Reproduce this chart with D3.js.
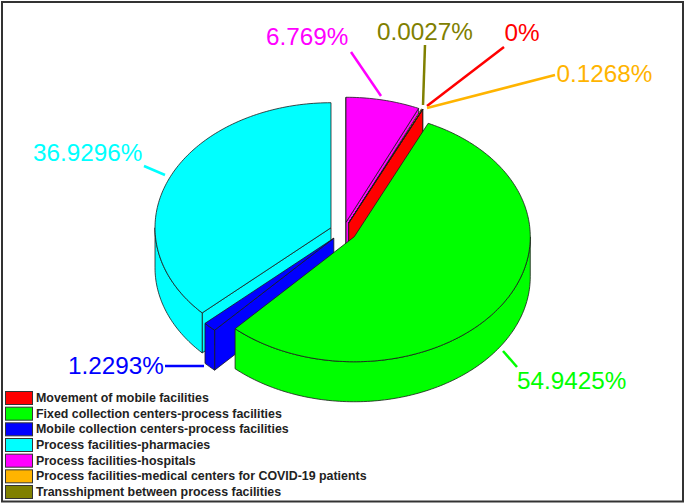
<!DOCTYPE html>
<html>
<head>
<meta charset="utf-8">
<script src="https://cdnjs.cloudflare.com/ajax/libs/d3/7.8.5/d3.min.js"></script>
<style>
html, body { margin: 0; padding: 0; background: #fff; }
svg { display: block; }
</style>
</head>
<body>
<svg id="chart" width="685" height="504"></svg>
<script>
// legend order, this is also the order round the pie
const categories = [
    'Movement of mobile facilities',
    'Fixed collection centers-process facilities',
    'Mobile collection centers-process facilities',
    'Process facilities-pharmacies',
    'Process facilities-hospitals',
    'Process facilities-medical centers for COVID-19 patients',
    'Transshipment between process facilities'
];
const values = [0, 54.9425, 1.2293, 36.9296, 6.769, 0.1268, 0.0027];
const valueLabels = ['0%', '54.9425%', '1.2293%', '36.9296%', '6.769%', '0.1268%', '0.0027%'];
const colors = ['#ff0000', '#00ff00', '#0000ff', '#00ffff', '#ff00ff', '#ffb400', '#808000'];
const wallOrder = [3, 4, 5, 6, 0, 2, 1]; // back to front

// text position and leader line for each label, same order as categories
const labelSpots = [
    { x: 522, y: 41, anchor: 'middle', line: [[504, 47], [427, 106]] },
    { x: 517, y: 389, anchor: 'start', line: [[503, 351], [517, 367]] },
    { x: 68, y: 374, anchor: 'start', line: [[165, 366], [204, 366]] },
    { x: 33, y: 160.5, anchor: 'start', line: [[144, 166], [165, 175]] },
    { x: 266, y: 45, anchor: 'start', line: [[351, 52], [381, 96]] },
    { x: 556.5, y: 82, anchor: 'start', line: [[555, 75], [427, 108]] },
    { x: 377, y: 40, anchor: 'start', line: [[425, 45], [423, 105]] }
];

const svg = d3.select('#chart');
const startDeg = 24.83;
const depth = 40;
const explode = 0.0756;
const centerX = 343.2;
const centerY = 231.5;
const outline = '#1c1c1c';

const xScale = d3.scaleLinear().domain([-1, 1]).range([centerX - 176, centerX + 176]);
const yScale = d3.scaleLinear().domain([-1, 1]).range([centerY - 125, centerY + 125]);

const slices = d3.pie().sort(null)
    .startAngle(startDeg * Math.PI / 180)
    .endAngle(startDeg * Math.PI / 180 + 2 * Math.PI)(values);

const line = d3.line();

// point on the tilted disc, r=1 is the rim
function project(d, angle, r, drop) {
    const mid = (d.startAngle + d.endAngle) / 2;
    const ux = explode * Math.sin(mid) + r * Math.sin(angle);
    const uy = -explode * Math.cos(mid) - r * Math.cos(angle);
    return [xScale(ux), yScale(uy) + (drop || 0)];
}

function rimAngles(a0, a1) {
    const n = Math.max(2, Math.ceil((a1 - a0) / 0.02));
    return d3.range(n + 1).map(i => a0 + (a1 - a0) * i / n);
}

function drawPoly(points, color) {
    svg.append('path')
        .attr('d', line(points) + 'Z')
        .attr('fill', color)
        .attr('stroke', outline)
        .attr('stroke-width', 0.8)
        .attr('stroke-linejoin', 'round');
}

function radialWall(d, angle, color) {
    drawPoly([
        project(d, angle, 0), project(d, angle, 1),
        project(d, angle, 1, depth), project(d, angle, 0, depth)
    ], color);
}

function outerWall(d, color) {
    // only the front half of the rim can be seen
    const ranges = [[Math.PI / 2, 3 * Math.PI / 2], [5 * Math.PI / 2, 7 * Math.PI / 2]];
    ranges.forEach(r => {
        const a0 = Math.max(d.startAngle, r[0]);
        const a1 = Math.min(d.endAngle, r[1]);
        if (a1 <= a0) return;
        const rim = rimAngles(a0, a1);
        drawPoly(rim.map(a => project(d, a, 1))
            .concat(rim.slice().reverse().map(a => project(d, a, 1, depth))), color);
    });
}

wallOrder.forEach(i => {
    const d = slices[i];
    const color = colors[i];
    if (Math.sin(d.startAngle) < -1e-6) radialWall(d, d.startAngle, color);
    if (Math.sin(d.endAngle) > 1e-6) radialWall(d, d.endAngle, color);
    outerWall(d, color);
    drawPoly([project(d, 0, 0)].concat(rimAngles(d.startAngle, d.endAngle).map(a => project(d, a, 1))), color);
});

// labels and leader lines
labelSpots.forEach((s, i) => {
    svg.append('path')
        .attr('d', line(s.line))
        .attr('fill', 'none')
        .attr('stroke', colors[i])
        .attr('stroke-width', 2.5);
    svg.append('text')
        .attr('x', s.x)
        .attr('y', s.y)
        .attr('text-anchor', s.anchor)
        .attr('font-family', '"Liberation Sans", Arial, sans-serif')
        .attr('font-size', 24.3)
        .attr('fill', colors[i])
        .text(valueLabels[i]);
});

// legend
const legendY = d3.scaleLinear().domain([0, 6]).range([391, 485]);
const legend = svg.selectAll('.legend-row').data(categories).enter().append('g').classed('legend-row', true);
legend.append('rect')
    .attr('x', 5.5)
    .attr('y', (d, i) => legendY(i) + 0.5)
    .attr('width', 27)
    .attr('height', 13)
    .attr('fill', (d, i) => colors[i])
    .attr('stroke', '#333')
    .attr('stroke-width', 1);
legend.append('text')
    .attr('x', 36)
    .attr('y', (d, i) => legendY(i) + 11)
    .attr('font-family', '"Liberation Sans", Arial, sans-serif')
    .attr('font-weight', 'bold')
    .attr('font-size', 12.4)
    .attr('fill', '#222')
    .text(d => d);

// image frame
svg.append('rect')
    .attr('x', 2)
    .attr('y', 2)
    .attr('width', 681)
    .attr('height', 499.5)
    .attr('fill', 'none')
    .attr('stroke', '#333')
    .attr('stroke-width', 2);
</script>
</body>
</html>
